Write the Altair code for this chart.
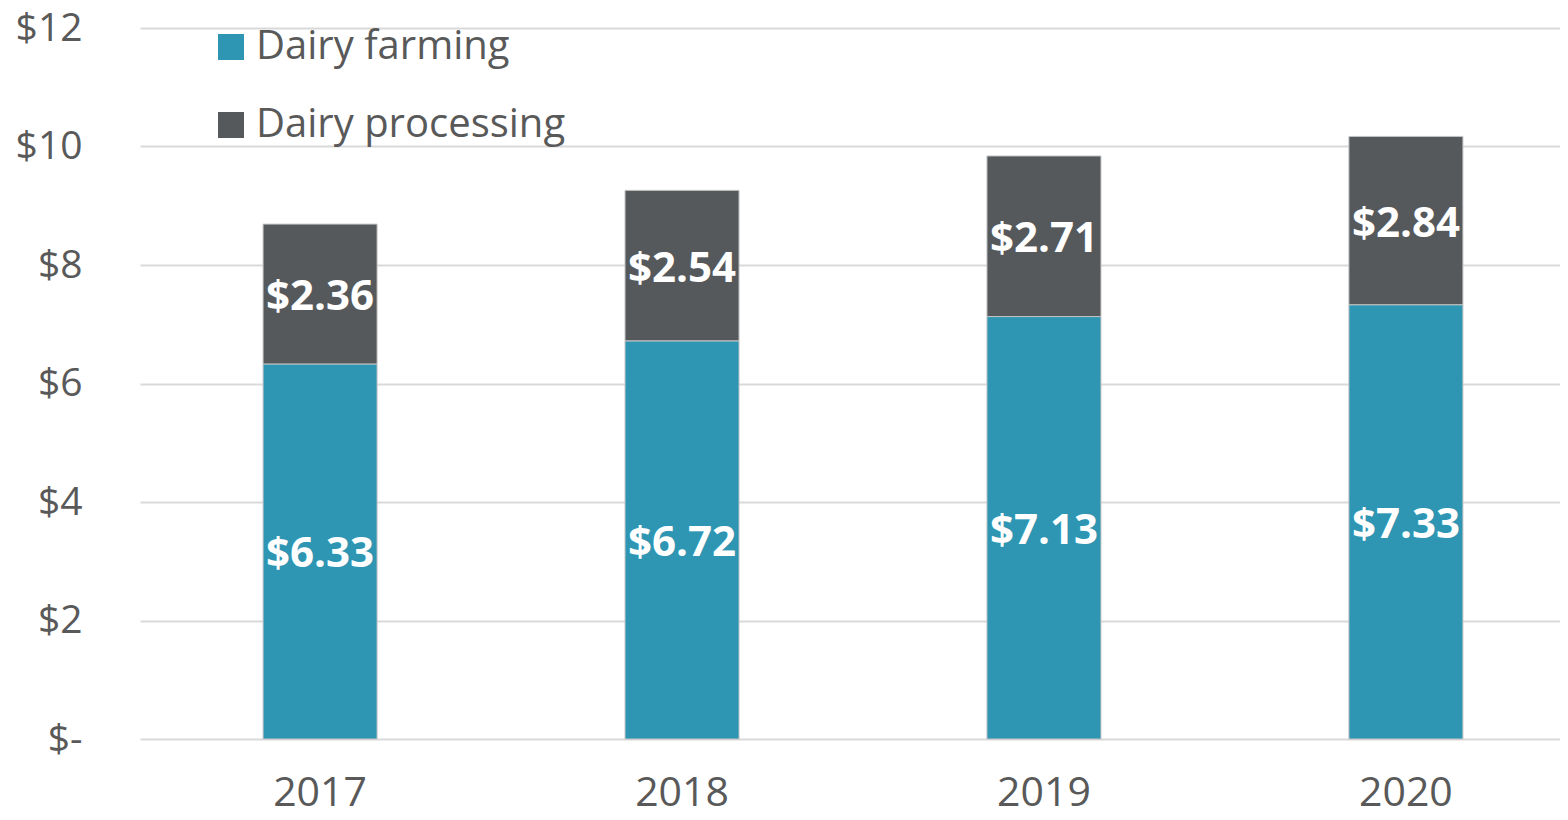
import altair as alt
import pandas as pd

years = ["2017", "2018", "2019", "2020"]
farming = [6.33, 6.72, 7.13, 7.33]
processing = [2.36, 2.54, 2.71, 2.84]
series = ["Dairy farming", "Dairy processing"]
colors = ["#2E96B3", "#55595C"]
y_ticks = [0, 2, 4, 6, 8, 10, 12]

rows = []
for i, yr in enumerate(years):
    rows.append({"year": yr, "series": series[0], "value": farming[i], "order": 0})
    rows.append({"year": yr, "series": series[1], "value": processing[i], "order": 1})
df = pd.DataFrame(rows)

FONT = "Open Sans"
GREY = "#595959"

base = alt.Chart(df).transform_stack(
    stack="value", groupby=["year"], as_=["v0", "v1"], sort=[alt.SortField("order")]
).transform_calculate(mid="(datum.v0 + datum.v1) / 2",
                      label="'$' + format(datum.value, '.2f')")

xenc = alt.X("year:N", title=None, sort=years,
             scale=alt.Scale(range=[0, 1446], paddingInner=0.685, paddingOuter=0.34),
             axis=alt.Axis(labelFontSize=41, labelFont=FONT, labelColor=GREY,
                           labelPadding=34, domain=False, ticks=False, labelAngle=0))

bars = base.mark_bar(stroke="#c4c4c4", strokeWidth=1).encode(
    x=xenc,
    y=alt.Y("v0:Q", title=None,
            scale=alt.Scale(domain=[0, 12], nice=False),
            axis=alt.Axis(values=y_ticks, labelFontSize=39, labelFont=FONT, labelColor=GREY,
                          labelPadding=58, domain=False, ticks=False,
                          gridColor="#d9d9d9", gridWidth=2,
                          labelExpr="datum.value == 0 ? '$-' : '$' + datum.value")),
    y2="v1:Q",
    color=alt.Color("series:N", title=None,
                    scale=alt.Scale(domain=series, range=colors),
                    legend=alt.Legend(orient="none", legendX=71, legendY=-1,
                                      symbolType="square", symbolSize=676,
                                      symbolStrokeWidth=0, labelFontSize=40,
                                      labelFont=FONT, labelColor=GREY,
                                      labelOffset=5, rowPadding=38, labelLimit=600,
                                      padding=0)),
)

labels = base.mark_text(color="white", fontSize=42, fontWeight="bold", font=FONT,
                        baseline="middle", dy=3).encode(
    x=alt.X("year:N", sort=years),
    y="mid:Q",
    text="label:N",
)

chart = (bars + labels).properties(
    width=1420, height=711,
    autosize=alt.AutoSizeParams(type="none"),
    padding={"left": 132, "top": 20, "right": 0, "bottom": 73},
).configure_view(stroke=None)

chart.save("out.html", embed_options={"renderer": "svg", "actions": False})
